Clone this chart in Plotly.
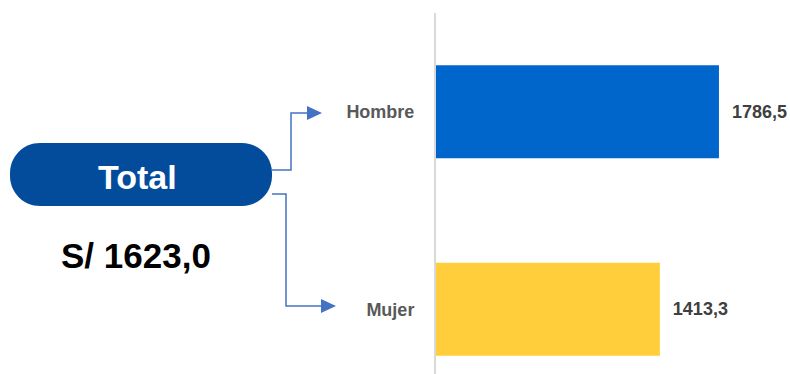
import plotly.graph_objects as go

# Data
categories = ["Hombre", "Mujer"]
values = [1786.5, 1413.3]
bar_colors = ["#0066CC", "#FFCE3A"]
total_label = "Total"
total_value = "S/ 1623,0"

W, H = 790, 374
FONT = "Liberation Sans, Arial, sans-serif"


# window pixel -> paper helpers (margins are zero, so paper = whole figure)
def px(x):
    return x / W


def py(y):
    return 1 - y / H


fig = go.Figure()

fig.add_trace(go.Bar(
    y=categories, x=values, orientation="h",
    marker=dict(color=bar_colors, line=dict(width=0)),
    texttemplate="  %{x:.1f}", textposition="outside",
    textfont=dict(family=FONT, size=18, color="#404040", weight="bold"),
    cliponaxis=False, hoverinfo="skip",
))

fig.update_layout(
    width=W, height=H,
    margin=dict(l=0, r=0, t=0, b=0),
    paper_bgcolor="white", plot_bgcolor="white",
    separators=",.",
    showlegend=False,
    bargap=0.53,
)

fig.update_xaxes(domain=[px(436), 1], range=[0, 2235], visible=False)
fig.update_yaxes(
    domain=[0, py(13)],
    categoryorder="array", categoryarray=["Mujer", "Hombre"],
    range=[-0.328, 1.5],
    showline=True, linecolor="#D9D9D9", linewidth=2,
    showgrid=False, zeroline=False, ticks="",
    ticklabelstandoff=16,
    tickfont=dict(family=FONT, size=18, color="#595959", weight="bold"),
)

# Rounded "Total" pill
x0, x1, y0, y1, r = 10, 272, 143, 206, 30
k = 0.5523 * r
pill = (
    f"M {px(x0 + r)},{py(y0)} L {px(x1 - r)},{py(y0)} "
    f"C {px(x1 - r + k)},{py(y0)} {px(x1)},{py(y0 + r - k)} {px(x1)},{py(y0 + r)} "
    f"L {px(x1)},{py(y1 - r)} "
    f"C {px(x1)},{py(y1 - r + k)} {px(x1 - r + k)},{py(y1)} {px(x1 - r)},{py(y1)} "
    f"L {px(x0 + r)},{py(y1)} "
    f"C {px(x0 + r - k)},{py(y1)} {px(x0)},{py(y1 - r + k)} {px(x0)},{py(y1 - r)} "
    f"L {px(x0)},{py(y0 + r)} "
    f"C {px(x0)},{py(y0 + r - k)} {px(x0 + r - k)},{py(y0)} {px(x0 + r)},{py(y0)} Z"
)
fig.add_shape(type="path", path=pill, xref="paper", yref="paper",
              fillcolor="#034C9C", line=dict(width=0), layer="above")

fig.add_annotation(x=px(137), y=py(177), xref="paper", yref="paper",
                   xanchor="center", yanchor="middle",
                   text=total_label, showarrow=False,
                   font=dict(family=FONT, size=34, color="white", weight="bold"))
fig.add_annotation(x=px(136), y=py(256), xref="paper", yref="paper",
                   xanchor="center", yanchor="middle",
                   text=total_value, showarrow=False,
                   font=dict(family=FONT, size=35, color="black", weight="bold"))

# Connectors
line_color = "#4472C4"
top_path = f"M {px(272)},{py(170)} L {px(291)},{py(170)} L {px(291)},{py(113)} L {px(308)},{py(113)}"
bot_path = f"M {px(272)},{py(194)} L {px(286)},{py(194)} L {px(286)},{py(306)} L {px(322)},{py(306)}"
for p in (top_path, bot_path):
    fig.add_shape(type="path", path=p, xref="paper", yref="paper",
                  line=dict(color=line_color, width=1.5))

# Arrow heads
for tip_x, tip_y in ((322, 113), (336, 306)):
    head = (f"M {px(tip_x)},{py(tip_y)} L {px(tip_x - 15)},{py(tip_y - 7)} "
            f"L {px(tip_x - 15)},{py(tip_y + 7)} Z")
    fig.add_shape(type="path", path=head, xref="paper", yref="paper",
                  fillcolor=line_color, line=dict(width=0))

# drop the default page margin so the figure fills the window exactly
fig.write_html("out.html", config={"displayModeBar": False},
               post_script="document.body.style.margin='0';document.body.style.overflow='hidden';")
